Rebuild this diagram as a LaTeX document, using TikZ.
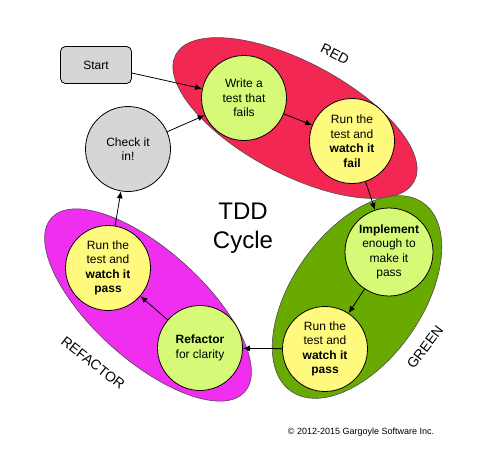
\documentclass[tikz,border=0pt]{standalone}
\usepackage{fontspec}
\setmainfont{Liberation Sans}
\usetikzlibrary{arrows.meta}
\definecolor{redfill}{RGB}{243,40,82}
\definecolor{greenfill}{RGB}{104,170,0}
\definecolor{magfill}{RGB}{240,46,240}
\definecolor{lgreen}{RGB}{214,250,120}
\definecolor{lyellow}{RGB}{255,250,125}
\definecolor{lgrey}{RGB}{214,214,214}
\begin{document}
\begin{tikzpicture}[x=1pt,y=1pt,
  stepcirc/.style={circle, draw=black, line width=0.8pt, minimum size=85pt, inner sep=0pt, align=center, font=\fontsize{12}{14.5}\selectfont},
  blob/.style={draw=black!70, line width=0.6pt},
  conn/.style={line width=0.8pt, -{Latex[length=7pt,width=6pt]}},
  lab/.style={font=\fontsize{14}{16}\selectfont}]
\useasboundingbox (0,0) rectangle (492,-452);
% ellipses
\draw[blob, fill=redfill, shift={(295,-118)}, rotate=-28] (0,0) ellipse [x radius=135, y radius=56];
\draw[blob, fill=greenfill, shift={(357,-297)}, rotate=55] (0,0) ellipse [x radius=115, y radius=65];
\draw[blob, fill=magfill, shift={(148,-305)}, rotate=-42] (0,0) ellipse [x radius=130, y radius=55];
% nodes
\node[draw=black, line width=0.8pt, fill=lgrey, rounded corners=5pt, minimum width=71pt, minimum height=37pt, font=\fontsize{12}{14.5}\selectfont] (start) at (96,-65) {Start};
\node[stepcirc, fill=lgreen] (write) at (244,-98) {Write a\\test that\\fails};
\node[stepcirc, fill=lyellow] (fail) at (352,-141) {Run the\\test and\\\textbf{watch it}\\\textbf{fail}};
\node[stepcirc, fill=lgreen, minimum size=88pt] (impl) at (389,-252) {\textbf{Implement}\\enough to\\make it\\pass};
\node[stepcirc, fill=lyellow] (gpass) at (325,-349) {Run the\\test and\\\textbf{watch it}\\\textbf{pass}};
\node[stepcirc, fill=lgreen] (refac) at (200,-348) {\textbf{Refactor}\\for clarity};
\node[stepcirc, fill=lyellow] (mpass) at (108,-268) {Run the\\test and\\\textbf{watch it}\\\textbf{pass}};
\node[stepcirc, fill=lgrey] (check) at (128,-149) {Check it\\in!};
% connectors
\draw[conn] (start) -- (write);
\draw[conn] (check) -- (write);
\draw[conn] (write) -- (fail);
\draw[conn] (fail) -- (impl);
\draw[conn] (impl) -- (gpass);
\draw[conn] (gpass) -- (refac);
\draw[conn] (refac) -- (mpass);
\draw[conn] (mpass) -- (check);
% labels
\node[lab, rotate=-27] (red) at (335,-54) {RED};
\node[lab, rotate=53] (green) at (425,-347) {GREEN};
\node[lab, rotate=-38] (refl) at (93,-363) {REFACTOR};
\node[font=\fontsize{24}{29}\selectfont, align=center] (title) at (243,-228) {TDD\\Cycle};
\node[font=\fontsize{9}{11}\selectfont] (copy) at (361,-432) {© 2012-2015 Gargoyle Software Inc.};
\end{tikzpicture}
\end{document}
